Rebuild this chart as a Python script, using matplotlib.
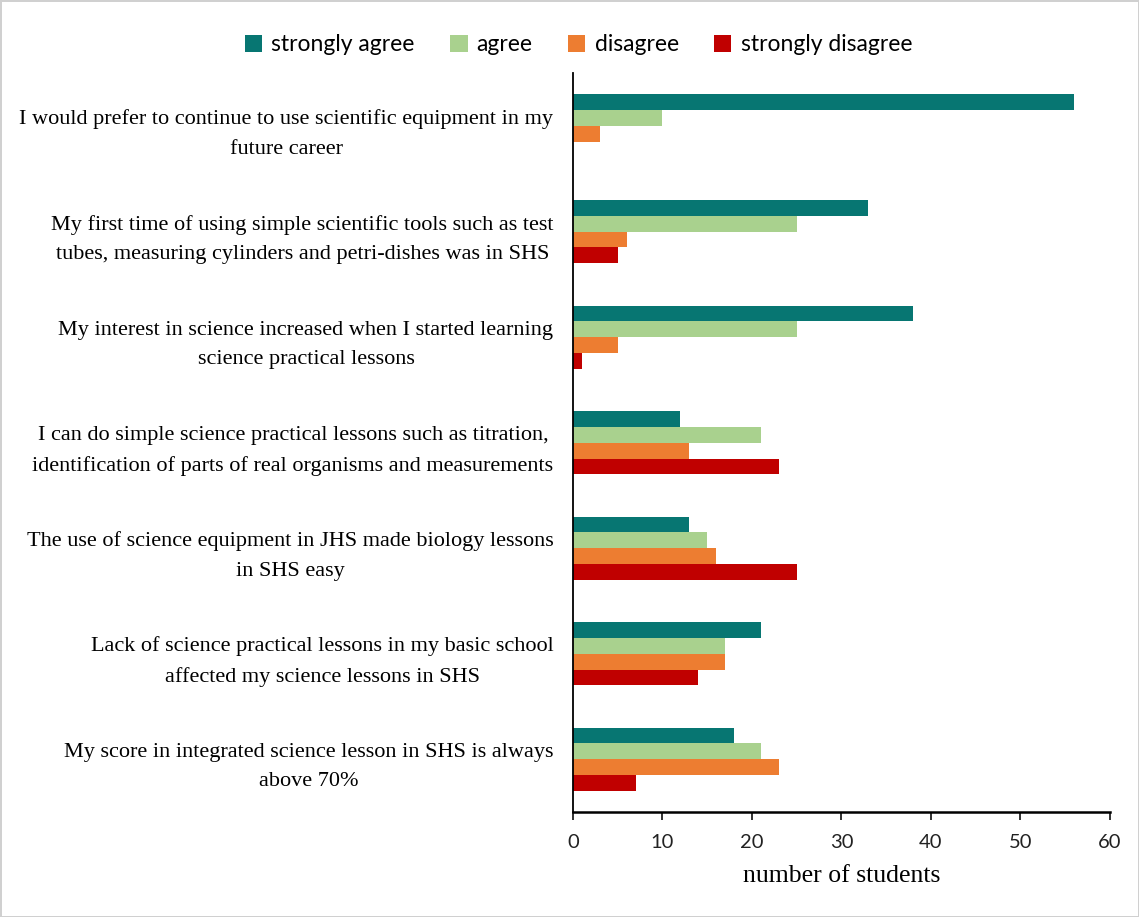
import numpy as np
import matplotlib
matplotlib.use("Agg")
from matplotlib import pyplot as plt

# data
labels = [
    "I would prefer to continue to use scientific equipment in my\nfuture career",
    "My first time of using simple scientific tools such as test\ntubes, measuring cylinders and petri-dishes was in SHS",
    "My interest in science increased when I started learning\nscience practical lessons",
    "I can do simple science practical lessons such as titration,\nidentification of parts of real organisms and measurements",
    "The use of science equipment in JHS made biology lessons\nin SHS easy",
    "Lack of science practical lessons in my basic school\naffected my science lessons in SHS",
    "My score in integrated science lesson in SHS is always\nabove 70%",
]
series_names = ["strongly agree", "agree", "disagree", "strongly disagree"]
strongly_agree = [56, 33, 38, 12, 13, 21, 18]
agree = [10, 25, 25, 21, 15, 17, 21]
disagree = [3, 6, 5, 13, 16, 17, 23]
strongly_disagree = [0, 5, 1, 23, 25, 14, 7]
colors = ["#077672", "#A9D18E", "#ED7D31", "#C00000"]

fig = plt.figure(figsize=(11.39, 9.17), dpi=100)
fig.patch.set_edgecolor("#d0d0d0")
fig.patch.set_linewidth(2)
ax = fig.add_axes([0.503, 0.1145, 0.4715, 0.8055])

y = np.arange(len(labels))
h = 0.15
all_vals = [strongly_agree, agree, disagree, strongly_disagree]
for i, vals in enumerate(all_vals):
    ax.barh(y + (i - 1.5) * h, vals, height=h, color=colors[i], label=series_names[i])

ax.set_ylim(len(labels) - 0.5, -0.5)
ax.set_xlim(0, 60)
ax.set_xticks(range(0, 61, 10))
ax.set_yticks(y)
ax.set_yticklabels(labels, fontsize=16, family="Liberation Serif",
                   multialignment="center", linespacing=1.75)
ax.tick_params(axis="y", length=0, pad=14)
ax.tick_params(axis="x", length=6, width=1.3, labelsize=14.5, colors="#222222", pad=10)
for t in ax.get_xticklabels():
    t.set_family("Lato")
ax.spines["top"].set_visible(False)
ax.spines["right"].set_visible(False)
ax.spines["left"].set_linewidth(1.3)
ax.spines["bottom"].set_linewidth(1.8)
ax.set_xlabel("number of students", fontsize=18.5, family="Liberation Serif", labelpad=10)

leg = fig.legend(loc="center", bbox_to_anchor=(0.508, 0.951), ncol=4, frameon=False,
                 prop={"family": "Lato", "size": 16.5}, handlelength=0.75, handleheight=0.75,
                 handletextpad=0.4, columnspacing=1.55)

plt.savefig("out.png", dpi=100)
